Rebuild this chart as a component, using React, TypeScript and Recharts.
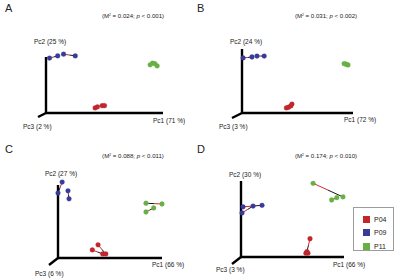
import { ScatterChart, Scatter, XAxis, YAxis, ReferenceLine, Legend } from 'recharts';

type Pt = [number, number];
interface Pair { group: string; a: Pt; b: Pt }

const W = 200;
const H = 139;
const FONT = '"Liberation Sans", Arial, sans-serif';

const GROUPS = ['P04', 'P09', 'P11'];
const COLORS: Record<string, string> = { P04: '#c1272d', P09: '#383b98', P11: '#69b044' };
const LINK_RED = '#d42a2a';
const LINK_BLACK = '#151515';

// procrustes-style pairs (scores scaled to axis length = 1)
const PAIRS_A: Pair[] = [
  { group: 'P04', a: [0.42, 0.09], b: [0.44, 0.11] },
  { group: 'P04', a: [0.48, 0.13], b: [0.5, 0.13] },
  { group: 'P09', a: [0.03, 0.98], b: [0.1, 1.02] },
  { group: 'P09', a: [0.15, 1.05], b: [0.25, 1.02] },
  { group: 'P11', a: [0.89, 0.86], b: [0.91, 0.89] },
  { group: 'P11', a: [0.93, 0.88], b: [0.95, 0.84] },
];
const PAIRS_B: Pair[] = [
  { group: 'P04', a: [0.4, 0.08], b: [0.42, 0.09] },
  { group: 'P04', a: [0.44, 0.11], b: [0.45, 0.14] },
  { group: 'P09', a: [0.01, 0.86], b: [0.09, 0.875] },
  { group: 'P09', a: [0.135, 0.89], b: [0.2, 0.89] },
  { group: 'P11', a: [0.92, 0.77], b: [0.94, 0.76] },
  { group: 'P11', a: [0.935, 0.765], b: [0.955, 0.75] },
];
const PAIRS_C: Pair[] = [
  { group: 'P04', a: [0.33, 0.11], b: [0.43, 0.055] },
  { group: 'P04', a: [0.385, 0.18], b: [0.46, 0.055] },
  { group: 'P09', a: [0.04, 1.04], b: [0.0, 0.89] },
  { group: 'P09', a: [0.096, 0.92], b: [0.106, 0.81] },
  { group: 'P11', a: [1.0, 0.74], b: [0.846, 0.75] },
  { group: 'P11', a: [0.846, 0.63], b: [0.92, 0.685] },
];
const PAIRS_D: Pair[] = [
  { group: 'P04', a: [0.67, 0.24], b: [0.64, 0.07] },
  { group: 'P04', a: [0.63, 0.05], b: [0.65, 0.05] },
  { group: 'P09', a: [0.01, 0.58], b: [0.117, 0.67] },
  { group: 'P09', a: [0.02, 0.66], b: [0.204, 0.68] },
  { group: 'P11', a: [0.7, 0.97], b: [0.99, 0.79] },
  { group: 'P11', a: [0.88, 0.75], b: [0.93, 0.78] },
];

const M2 = ['0.024', '0.031', '0.088', '0.174'];
const P_VAL = ['0.001', '0.002', '0.011', '0.010'];
const PC1_VAR = [71, 72, 66, 66];
const PC2_VAR = [25, 24, 27, 30];
const PC3_VAR = [2, 3, 6, 3];
const LETTERS = ['A', 'B', 'C', 'D'];

interface Layout {
  left: number; top: number;
  ox: number; oy: number; len1: number; len2: number;
  pc3: Pt;
  letter: Pt; title: Pt; pc1: Pt; pc2: Pt; pc3Label: Pt;
}

const LAYOUTS: Layout[] = [
  { left: 0, top: 0, ox: 46, oy: 113, len1: 117, len2: 56, pc3: [-8, 4],
    letter: [5, 12], title: [133, 18], pc1: [153, 123], pc2: [50, 44], pc3Label: [23, 129] },
  { left: 200, top: 0, ox: 42, oy: 113, len1: 111, len2: 64, pc3: [-10, 5],
    letter: [-3, 12], title: [126, 18], pc1: [144, 122], pc2: [46, 44], pc3Label: [19, 129] },
  { left: 0, top: 139, ox: 58, oy: 119, len1: 104, len2: 73, pc3: [-9, 7],
    letter: [5, 14], title: [133, 19], pc1: [152, 128], pc2: [61, 37], pc3Label: [35, 137] },
  { left: 200, top: 139, ox: 41, oy: 118, len1: 103, len2: 76, pc3: [-9, 7],
    letter: [-3, 14], title: [126, 19], pc1: [133, 128], pc2: [45, 38], pc3Label: [16, 133] },
];
const PAIRS = [PAIRS_A, PAIRS_B, PAIRS_C, PAIRS_D];

const dot = (color: string) => (p: any) => (
  <circle cx={p.cx} cy={p.cy} r={2.4} fill={color} stroke={color} strokeWidth={0.3} />
);

function LegendBox(props: any) {
  const items = (props.payload ?? []).filter((e: any) => GROUPS.includes(e.value));
  return (
    <div style={{
      width: 41, height: 44, boxSizing: 'border-box', border: '1px solid #9c9c9c',
      background: '#fff', paddingTop: 5, fontFamily: FONT, fontSize: 7, color: '#222',
    }}>
      {items.map((e: any) => (
        <div key={e.value} style={{ display: 'flex', alignItems: 'center', height: 13.3, paddingLeft: 9 }}>
          <span style={{ width: 7, height: 7, background: COLORS[e.value], marginRight: 4 }} />
          <span>{e.value}</span>
        </div>
      ))}
    </div>
  );
}

const axisStyle = { stroke: '#000', strokeWidth: 2.4, strokeOpacity: 1 };

function Panel({ idx }: { idx: number }) {
  const L = LAYOUTS[idx];
  const pairs = PAIRS[idx];
  const xDom = [-L.ox / L.len1, (W - L.ox) / L.len1];
  const yDom = [-(H - L.oy) / L.len2, L.oy / L.len2];
  const pc3End = { x: L.pc3[0] / L.len1, y: -L.pc3[1] / L.len2 };
  const txt = { fontFamily: FONT, fontSize: 6.5, fill: '#222' };

  return (
    <div style={{ position: 'absolute', left: L.left, top: L.top, width: W, height: H }}>
      <ScatterChart width={W} height={H} margin={{ top: 0, right: 0, bottom: 0, left: 0 }}>
        <XAxis type="number" dataKey="x" domain={xDom} hide allowDataOverflow />
        <YAxis type="number" dataKey="y" domain={yDom} hide allowDataOverflow />
        <ReferenceLine segment={[{ x: 0, y: 0 }, { x: 1, y: 0 }]} {...axisStyle} ifOverflow="visible" />
        <ReferenceLine segment={[{ x: 0, y: 0 }, { x: 0, y: 1 }]} {...axisStyle} ifOverflow="visible" />
        <ReferenceLine segment={[{ x: 0, y: 0 }, pc3End]} {...axisStyle} ifOverflow="visible" />
        {pairs.map((p, i) => {
          const mid = { x: (p.a[0] + p.b[0]) / 2, y: (p.a[1] + p.b[1]) / 2 };
          return [
            <ReferenceLine key={`r${i}`} segment={[{ x: p.a[0], y: p.a[1] }, mid]} stroke={LINK_RED} strokeWidth={1} ifOverflow="visible" />,
            <ReferenceLine key={`k${i}`} segment={[mid, { x: p.b[0], y: p.b[1] }]} stroke={LINK_BLACK} strokeWidth={1} ifOverflow="visible" />,
          ];
        })}
        {GROUPS.map((g) => (
          <Scatter
            key={g}
            name={g}
            data={pairs.filter((p) => p.group === g).flatMap((p) => [
              { x: p.a[0], y: p.a[1] },
              { x: p.b[0], y: p.b[1] },
            ])}
            fill={COLORS[g]}
            legendType="square"
            shape={dot(COLORS[g])}
            isAnimationActive={false}
          />
        ))}
        {idx === 3 && (
          <Legend
            layout="vertical"
            align="center"
            verticalAlign="middle"
            content={<LegendBox />}
            wrapperStyle={{ left: 153, top: 68, width: 41, height: 44 }}
          />
        )}
      </ScatterChart>
      <svg width={W} height={H} style={{ position: 'absolute', left: 0, top: 0, overflow: 'visible', pointerEvents: 'none' }}>
        <text x={L.letter[0]} y={L.letter[1]} fontFamily={FONT} fontSize={11} fill="#222">{LETTERS[idx]}</text>
        <text x={L.title[0]} y={L.title[1]} textAnchor="middle" {...txt} fontSize={6.1}>
          (M<tspan fontSize={3.4} dy={-2.2}>2</tspan><tspan dy={2.2}> = {M2[idx]}; </tspan>
          <tspan fontStyle="italic">p</tspan> &lt; {P_VAL[idx]})
        </text>
        <text x={L.pc2[0]} y={L.pc2[1]} textAnchor="middle" {...txt}>Pc2 ({PC2_VAR[idx]} %)</text>
        <text x={L.pc1[0]} y={L.pc1[1]} {...txt}>Pc1 ({PC1_VAR[idx]} %)</text>
        <text x={L.pc3Label[0]} y={L.pc3Label[1]} {...txt}>Pc3 ({PC3_VAR[idx]} %)</text>
      </svg>
    </div>
  );
}

export default function App() {
  return (
    <div style={{ position: 'absolute', left: 0, top: 0, width: 400, height: 278, background: '#fff', overflow: 'hidden' }}>
      {[0, 1, 2, 3].map((i) => <Panel key={i} idx={i} />)}
    </div>
  );
}
